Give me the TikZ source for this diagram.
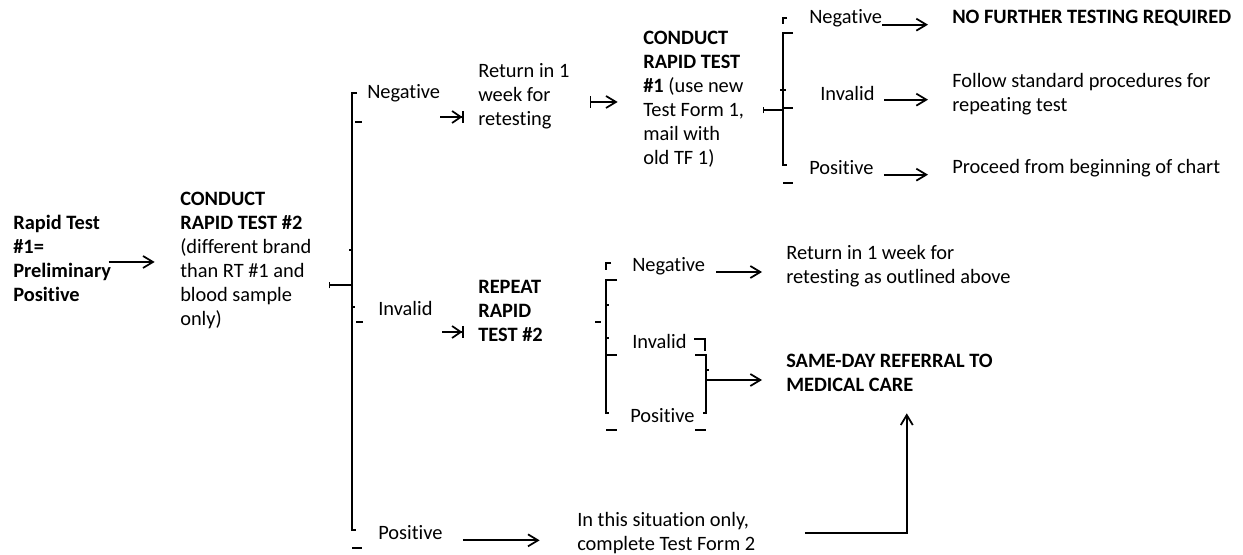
\documentclass[tikz,border=0pt]{standalone}
\usepackage{fontspec}
\setmainfont{Carlito}[Ligatures=NoCommon]
\usetikzlibrary{arrows.meta,calc}

\tikzset{
  txt/.style={anchor=west, align=left, inner sep=0pt, font=\fontsize{15.3}{18}\selectfont},
  bold/.style={txt, font=\fontsize{15.3}{18}\selectfont\bfseries},
  arr/.style={line width=1.3pt, -{Straight Barb[length=7.5pt,width=9pt]}},
  barr/.style={line width=1.3pt, -{Straight Barb[length=6.5pt,width=9pt]Bar[width=9pt]}},
  rarr/.style={line width=1.3pt, {Bar[width=9pt]}-{Straight Barb[length=7.5pt,width=9pt]}},
  brk/.style={line width=0.9pt},
}

\begin{document}
\begin{tikzpicture}[x=0.75pt, y=-0.75pt]
  \useasboundingbox (0,0) rectangle (1243,555);

  % texts
  \node[bold] (rt1) at (13,258) {Rapid Test\\\#1=\\Preliminary\\Positive};
  \node[txt] (rt2) at (180,260) {\textbf{CONDUCT}\\\textbf{RAPID TEST \#2}\\(different brand\\than RT \#1 and\\blood sample\\only)};
  \node[txt] (neg1) at (367,93) {Negative};
  \node[txt] (inv1) at (378,308) {Invalid};
  \node[txt] (pos1) at (378,533) {Positive};
  \node[txt] (ret1) at (478,96) {Return in 1\\week for\\retesting};
  \node[txt] (rt1b) at (643,99) {\textbf{CONDUCT}\\\textbf{RAPID TEST}\\\textbf{\#1} (use new\\Test Form 1,\\mail with\\old TF 1)};
  \node[txt] (neg2) at (809,18) {Negative};
  \node[txt] (inv2) at (820,93) {Invalid};
  \node[txt] (pos2) at (809,168) {Positive};
  \node[bold] (nofurther) at (952,18) {NO FURTHER TESTING REQUIRED};
  \node[txt] (follow) at (952,94) {Follow standard procedures for\\repeating test};
  \node[txt] (proceed) at (952,168) {Proceed from beginning of chart};
  \node[bold] (repeat) at (478,311) {REPEAT\\RAPID\\TEST \#2};
  \node[txt] (neg3) at (632,266) {Negative};
  \node[txt] (inv3) at (632,341) {Invalid};
  \node[txt] (pos3) at (630,416) {Positive};
  \node[txt] (ret2) at (786,266) {Return in 1 week for\\retesting as outlined above};
  \node[bold] (sameday) at (786,373) {SAME-DAY REFERRAL TO\\MEDICAL CARE};
  \node[txt] (insit) at (577,533) {In this situation only,\\complete Test Form 2};

  % brackets
  \coordinate (j1) at (352,285);
  \draw[brk] (357,93) -- (352,93) -- (352,530) -- (356,530);
  \draw[brk] (355,122) -- (362,122) (356,322) -- (363,322) (352,548) -- (362,548)
    (349,250) -- (352,250) (352,307) -- (355,307);
  \draw[brk, {Bar[width=5pt]}-] ([xshift=13pt]rt2.east |- j1) -- (j1);

  \coordinate (j2) at (783,110);
  \draw[brk] (787,18) -- (783,18) -- (783,24);
  \draw[brk] (793,33) -- (783,33) -- (783,165) -- (787,165);
  \draw[brk] (780,90) -- (786,90) (783,108) -- (793,108) (783,183) -- (793,183);
  \draw[brk, {Bar[width=5pt]}-] ([xshift=14pt]rt1b.east |- j2) -- (j2);

  \draw[brk] (611,263) -- (606,263) -- (606,270);
  \draw[brk] (617,280) -- (606,280) -- (606,413) -- (609,413);
  \draw[brk] (595,322) -- (601,322) (606,305) -- (609,305) (606,338) -- (609,338)
    (606,355) -- (617,355) (606,430) -- (617,430);

  \coordinate (j4) at (706,380);
  \draw[brk] (694,339) -- (705,339) -- (705,351);
  \draw[brk] (695,355) -- (706,355) -- (706,413) -- (703,413);
  \draw[brk] (695,430) -- (706,430) (706,370) -- (709,370);

  % arrows
  \draw[arr, shorten >=19pt] ([xshift=-2pt,yshift=-3pt]rt1.east) -- ([yshift=-3pt]rt1.east -| rt2.west);
  \draw[barr, shorten >=10.5pt] ([yshift=-18pt]neg1.east) -- ([yshift=-18pt]neg1.east -| ret1.west);
  \draw[rarr, shorten >=19pt] ([xshift=15pt,yshift=-4.5pt]ret1.east) -- ([yshift=-4.5pt]ret1.east -| rt1b.west);
  \draw[arr, shorten >=18pt] ([yshift=-5pt]neg2.east) -- ([yshift=-5pt]neg2.east -| nofurther.west);
  \draw[arr, shorten >=18pt] ([xshift=7pt,yshift=-5pt]inv2.east) -- ([yshift=-5pt]inv2.east -| follow.west);
  \draw[arr, shorten >=18pt] ([xshift=7.5pt,yshift=-5pt]pos2.east) -- ([yshift=-5pt]pos2.east -| proceed.west);
  \draw[barr, shorten >=10.5pt] ([xshift=7pt,yshift=-18pt]inv1.east) -- ([yshift=-18pt]inv1.east -| repeat.west);
  \draw[arr, shorten >=18pt] ([xshift=8pt,yshift=-4.5pt]neg3.east) -- ([yshift=-4.5pt]neg3.east -| ret2.west);
  \draw[arr, shorten >=18pt] (j4) -- (j4 -| sameday.west);
  \draw[arr, shorten >=28pt] ([xshift=15pt,yshift=-5.5pt]pos1.east) -- ([yshift=-5.5pt]pos1.east -| insit.west);
  \draw[arr] ([xshift=37pt]insit.east) -| ([xshift=13pt,yshift=-16pt]sameday.south);
\end{tikzpicture}
\end{document}
